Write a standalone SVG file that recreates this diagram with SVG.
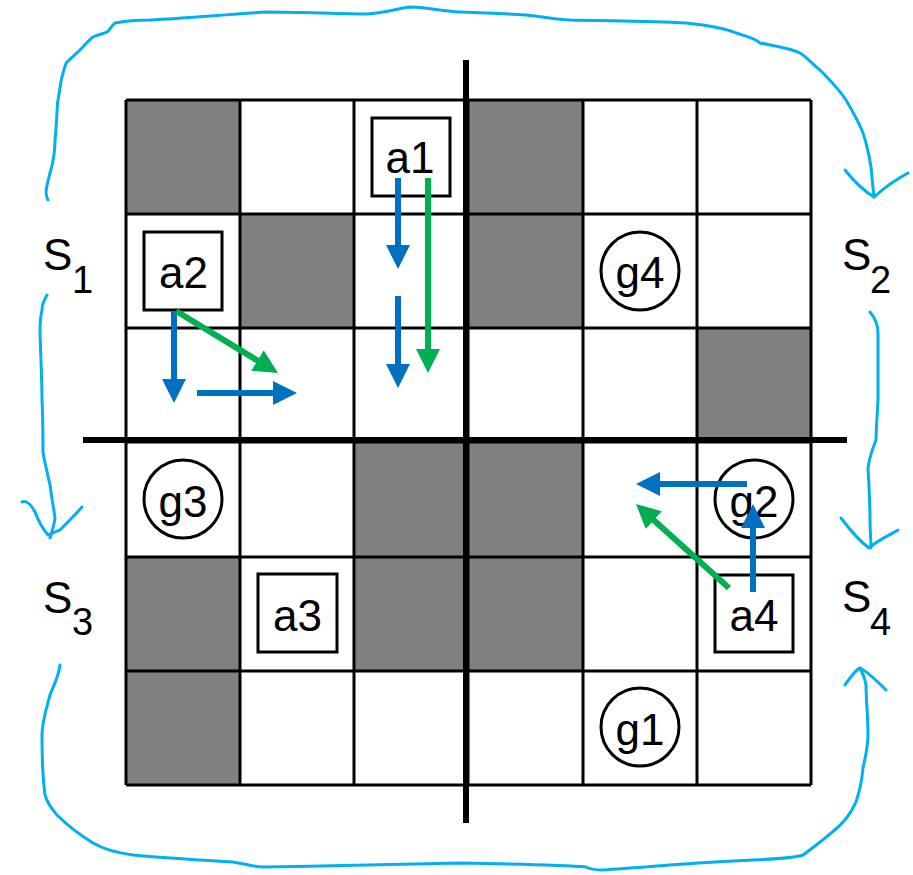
<svg xmlns="http://www.w3.org/2000/svg" width="913" height="875" viewBox="0 0 913 875">
<style>
.cell{fill:#808080}
.grid{stroke:#000;stroke-width:3;fill:none}
.divider{stroke:#000;stroke-width:6}
.box{fill:#fff;stroke:#000;stroke-width:3}
.goal{fill:none;stroke:#000;stroke-width:3}
.lbl{font-family:"Liberation Sans",Arial,sans-serif;font-size:44px;fill:#000}
.mid{text-anchor:middle}
.sub{font-size:38px}
.pen{fill:none;stroke:#00B0F0;stroke-width:3;stroke-linecap:round;stroke-linejoin:round}
.blue{stroke:#0070C0;stroke-width:6;fill:none;marker-end:url(#hb)}
.green{stroke:#00B050;stroke-width:6;fill:none;marker-end:url(#hg)}
</style>
<defs>
<marker id="hb" viewBox="0 0 24 24" markerUnits="userSpaceOnUse" markerWidth="24" markerHeight="24" refX="4" refY="12" orient="auto"><path d="M0,0 L24,12 L0,24 Z" fill="#0070C0"/></marker>
<marker id="hg" viewBox="0 0 24 24" markerUnits="userSpaceOnUse" markerWidth="24" markerHeight="24" refX="4" refY="12" orient="auto"><path d="M0,0 L24,12 L0,24 Z" fill="#00B050"/></marker>
</defs>
<rect width="913" height="875" fill="#fff"/>
<g id="grid">
<rect class="cell" x="126" y="100" width="114" height="114"/>
<rect class="cell" x="468" y="100" width="115" height="114"/>
<rect class="cell" x="240" y="214" width="114" height="114"/>
<rect class="cell" x="468" y="214" width="115" height="114"/>
<rect class="cell" x="697" y="328" width="114" height="114"/>
<rect class="cell" x="354" y="442" width="114" height="115"/>
<rect class="cell" x="468" y="442" width="115" height="115"/>
<rect class="cell" x="126" y="557" width="114" height="114"/>
<rect class="cell" x="354" y="557" width="114" height="114"/>
<rect class="cell" x="468" y="557" width="115" height="114"/>
<rect class="cell" x="126" y="671" width="114" height="114"/>
<path class="grid" d="M126,100V785M240,100V785M354,100V785M468,100V785M583,100V785M697,100V785M811,100V785M126,100H811M126,214H811M126,328H811M126,442H811M126,557H811M126,671H811M126,785H811"/>
<path class="divider" d="M466,60V823M83,440H847"/>
</g>
<g id="s1"><text class="lbl" x="43" y="270">S<tspan class="sub" x="72" y="293">1</tspan></text></g>
<g id="s2"><text class="lbl" x="842" y="270">S<tspan class="sub" x="870" y="293">2</tspan></text></g>
<g id="s3"><text class="lbl" x="43" y="613">S<tspan class="sub" x="72" y="635">3</tspan></text></g>
<g id="s4"><text class="lbl" x="842" y="612">S<tspan class="sub" x="870" y="635">4</tspan></text></g>
<g id="a1"><rect class="box" x="372" y="118" width="78" height="78"/><text class="lbl mid" x="410" y="173">a1</text></g>
<g id="a2"><rect class="box" x="144" y="232" width="78" height="78"/><text class="lbl mid" x="183.5" y="288">a2</text></g>
<g id="a3"><rect class="box" x="258" y="574" width="79" height="78"/><text class="lbl mid" x="297.5" y="631">a3</text></g>
<g id="a4"><rect class="box" x="715" y="575" width="78" height="77"/><text class="lbl mid" x="754" y="631">a4</text></g>
<g id="g4"><circle class="goal" cx="640" cy="271" r="39"/><text class="lbl mid" x="640" y="288">g4</text></g>
<g id="g3"><circle class="goal" cx="183" cy="499" r="39"/><text class="lbl mid" x="183" y="517">g3</text></g>
<g id="g2"><circle class="goal" cx="754" cy="499" r="39"/><text class="lbl mid" x="754" y="517">g2</text></g>
<g id="g1"><circle class="goal" cx="640" cy="727" r="39"/><text class="lbl mid" x="640" y="745">g1</text></g>
<g id="connectors">
<path class="blue" d="M398,178V249"/>
<path class="blue" d="M398,296V368"/>
<path class="green" d="M428,178V353"/>
<path class="blue" d="M174,311V383"/>
<path class="blue" d="M197,393H277"/>
<path class="green" d="M176,311L260.9,362.6"/>
<path class="blue" d="M753,592V524"/>
<path class="blue" d="M747,484H656"/>
<path class="green" d="M729,588L650.8,517.4"/>
<path class="pen" d="M48,200 C44,194 47,185 50,173 C54,160 55,150 55,140 C57,120 57,105 58,100 C60,88 61,80 62,77 C64,70 65,64 67,62 C72,57 76,54 80,50 C86,44 89,40 93,37 C99,34 104,34 107,32 C111,29 112,25 115,23 C125,21 138,20 150,20 C190,18 230,14 267,12 C300,12 340,14 367,14 C385,13 400,8 410,7 C425,7 440,11 460,12 C490,13 510,14 526,15 C545,17 555,19 570,20 C610,21 650,21 686,23 C705,25 725,28 736,33 C745,36 755,38 760,43 C775,46 790,48 800,53 C808,58 812,64 820,70 C830,80 838,88 846,100 C853,112 859,122 863,133 C867,145 869,155 871,167 C872,178 873,188 874,197"/>
<path class="pen" d="M845,170 C853,180 862,190 874,197 C884,188 895,180 908,173"/>
<path class="pen" d="M870,312 C875,318 878,325 878,333 C878,360 878,385 878,400 C877,420 876,430 876,440 C872,450 869,460 868,468 C869,485 870,505 870,518 C870,530 871,540 871,548"/>
<path class="pen" d="M841,518 C850,530 858,540 869,548 C878,540 890,535 898,530"/>
<path class="pen" d="M47,295 C44,300 42,305 42,310 C40,318 40,325 40,333 C41,360 42,385 42,400 C43,420 43,435 43,452 C45,465 48,475 50,485 C52,500 54,510 55,518 C54,525 52,532 50,538"/>
<path class="pen" d="M22,502 C27,500 32,506 35,512 C38,520 42,528 48,535 C52,534 56,531 60,530 C68,522 75,515 82,507"/>
<path class="pen" d="M60,665 C58,680 52,688 50,695 C46,710 42,722 42,735 C42,760 43,780 45,795 C48,805 53,810 57,815 C67,825 80,835 93,843 C105,850 118,853 133,855 C165,858 200,860 233,862 C245,864 255,867 263,867 C330,866 400,864 460,863 C510,864 560,865 586,867 C592,870 598,870 603,870 C650,867 700,862 753,860 C775,859 795,858 803,855 C810,850 815,846 820,842 C830,834 838,828 843,822 C850,815 853,808 856,802 C860,790 862,780 863,768 C866,755 868,745 868,735 C868,715 866,700 866,685 C865,678 862,672 860,668"/>
<path class="pen" d="M845,685 C850,678 855,670 860,668 C868,672 878,682 886,690"/>
</g>
</svg>
